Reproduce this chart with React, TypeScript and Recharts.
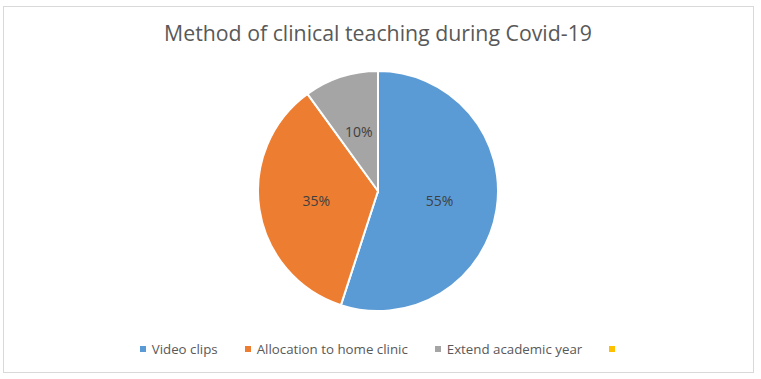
import React from 'react';
import { PieChart, Pie, Cell, Legend } from 'recharts';

const categories = ['Video clips', 'Allocation to home clinic', 'Extend academic year', ''];
const values = [55, 35, 10, 0];
const colors = ['#5B9BD5', '#ED7D31', '#A5A5A5', '#FFC000'];
const title = 'Method of clinical teaching during Covid-19';

const data = categories.map((name, i) => ({ name, value: values[i] }));
const total = values.reduce((a, b) => a + b, 0);

const RAD = Math.PI / 180;
const renderLabel = (props: any) => {
  const { cx, cy, midAngle, outerRadius, value } = props;
  if (!value) return null;
  const r = outerRadius * 0.52;
  const x = cx + r * Math.cos(-midAngle * RAD);
  const y = cy + r * Math.sin(-midAngle * RAD);
  return (
    <text x={x} y={y} fill="#404040" fontSize={14} fontFamily="'Open Sans', sans-serif" textAnchor="middle" dominantBaseline="central">
      {`${Math.round((value / total) * 100)}%`}
    </text>
  );
};

const renderLegend = (props: any) => {
  const payload = [...(props.payload || [])].sort(
    (a: any, b: any) => categories.indexOf(a.value) - categories.indexOf(b.value)
  );
  return (
    <div style={{ display: 'flex', justifyContent: 'center', alignItems: 'center', fontFamily: "'Open Sans', sans-serif", fontSize: 13.3, color: '#595959' }}>
      {payload.map((entry: any, i: number) => (
        <div key={i} style={{ display: 'flex', alignItems: 'center', marginRight: i < payload.length - 1 ? 27 : 0 }}>
          <span style={{ display: 'inline-block', width: 6, height: 6, background: entry.color, marginRight: 6 }} />
          <span>{entry.value}</span>
        </div>
      ))}
    </div>
  );
};

export default function App() {
  return (
    <div style={{ position: 'absolute', left: 0, top: 0, width: 761, height: 379, background: '#fff' }}>
      <div style={{ position: 'absolute', left: 3, top: 6, width: 749, height: 365, border: '1px solid #D9D9D9' }} />
      <div style={{ position: 'absolute', left: 0, top: 18, width: 756, textAlign: 'center', fontFamily: "'Open Sans', sans-serif", fontSize: 21.3, color: '#595959' }}>
        {title}
      </div>
      <div style={{ position: 'absolute', left: 0, top: 0 }}>
        <PieChart width={761} height={379} margin={{ top: 0, right: 0, bottom: 0, left: 0 }}>
          <Pie
            data={data}
            dataKey="value"
            nameKey="name"
            cx={378}
            cy={191}
            outerRadius={120}
            startAngle={90}
            endAngle={-270}
            stroke="#ffffff"
            strokeWidth={2}
            label={renderLabel}
            labelLine={false}
            isAnimationActive={false}
          >
            {data.map((d, i) => (
              <Cell key={i} fill={colors[i]} />
            ))}
          </Pie>
          <Legend content={renderLegend} itemSorter={null as any} verticalAlign="bottom" wrapperStyle={{ bottom: 21, left: 0, width: 761 }} />
        </PieChart>
      </div>
    </div>
  );
}
